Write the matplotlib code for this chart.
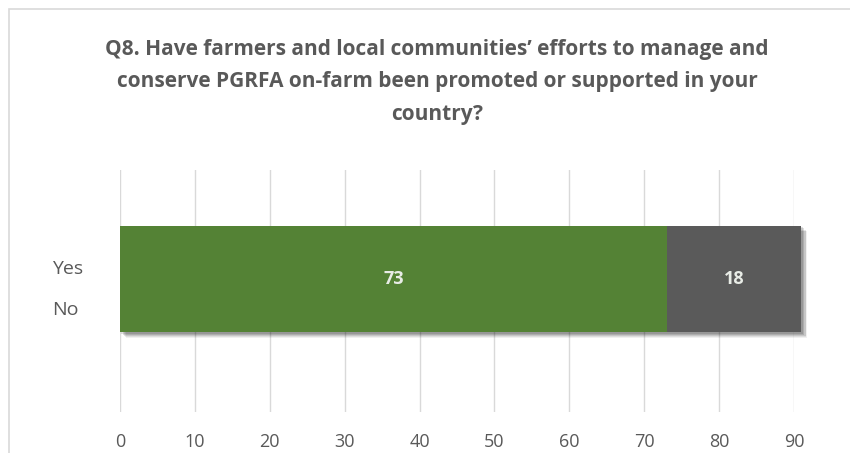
"""
Stacked horizontal bar for survey question Q8 (PGRFA on-farm support).
"""

import matplotlib
matplotlib.use("Agg")
import matplotlib.pyplot as plt
import matplotlib.patheffects as pe
from matplotlib.patches import Rectangle

TITLE = ("Q8. Have farmers and local communities\u2019 efforts to manage and\n"
         "conserve PGRFA on-farm been promoted or supported in your\n"
         "country?")
answers = ["Yes", "No"]
counts = [73, 18]
colors = ["#548235", "#5a5a5a"]
x_ticks = [0, 10, 20, 30, 40, 50, 60, 70, 80, 90]

TEXT_GREY = "#595959"
GRID_GREY = "#d9d9d9"


def draw_frame(fig):
    '''
    Light border round the chart area (top and left edges visible).
    '''
    fig.add_artist(Rectangle((9 / 850, -0.1), 1.2, 1 - 9 / 453 + 0.1,
                             transform=fig.transFigure, fill=False,
                             edgecolor=GRID_GREY, linewidth=1.2))


def soft_shadow():
    '''
    Stack a few faint offset shadows so the edge looks blurred.
    '''
    effects = []
    for dx, dy, alpha in [(4, -4, 0.06), (3.5, -3.5, 0.08), (3, -3, 0.1),
                          (2, -2, 0.12), (1, -1, 0.12)]:
        effects.append(pe.SimplePatchShadow(offset=(dx, dy),
                                            shadow_rgbFace='k', alpha=alpha))
    effects.append(pe.Normal())
    return effects


def main():
    plt.rcParams['font.family'] = ['Open Sans', 'DejaVu Sans']

    fig = plt.figure(figsize=(8.5, 4.53), dpi=100)
    fig.patch.set_facecolor("white")
    draw_frame(fig)

    ax = fig.add_axes([120 / 850, 1 - 412 / 453, 674 / 850, 242 / 453])
    ax.set_xlim(0, 90)
    ax.set_ylim(0, 1)

    left = 0
    for value, color in zip(counts, colors):
        bars = ax.barh([0.55], [value], left=left, height=0.44,
                       color=color, clip_on=False, zorder=3)
        for bar in bars:
            bar.set_path_effects(soft_shadow())
        ax.text(left + value / 2, 0.55, str(value), ha='center', va='center',
                fontsize=13, fontweight='bold', color='#e8ece6', zorder=4)
        left += value

    ax.set_xticks(x_ticks)
    ax.set_yticks([])
    ax.grid(axis='x', color=GRID_GREY, linewidth=1, zorder=0)
    ax.tick_params(axis='x', length=0, pad=15, labelsize=13,
                   labelcolor=TEXT_GREY)
    for spine in ax.spines.values():
        spine.set_visible(False)

    # category labels at the left of the bar
    for label, y in zip(answers, [269, 310]):
        fig.text(52 / 850, 1 - y / 453, label, ha='left', va='center',
                 fontsize=14, color=TEXT_GREY)

    fig.text(437 / 850, 1 - 82 / 453, TITLE, ha='center', va='center',
             fontsize=15, fontweight='bold', color=TEXT_GREY,
             linespacing=1.7)

    fig.savefig('out.png', dpi=100)


if __name__ == "__main__":
    main()
